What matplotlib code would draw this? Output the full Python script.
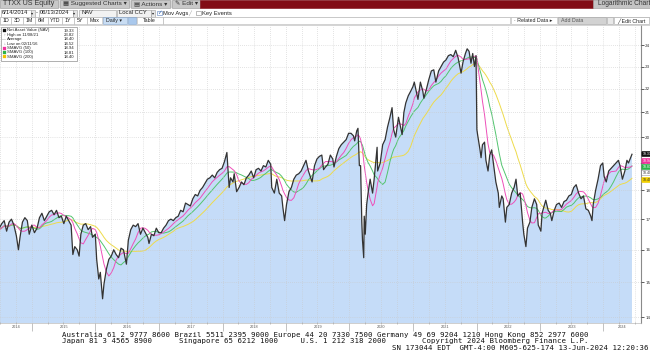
import matplotlib
matplotlib.use("Agg")
import matplotlib.pyplot as plt
import matplotlib.dates as mdates
from matplotlib.patches import Rectangle
from matplotlib.ticker import FixedLocator, FixedFormatter, NullFormatter, NullLocator
import numpy as np
import pandas as pd

W, H = 650, 358

# ---------------- data ----------------
dates_2014 = ["2014-06-13", "2014-06-27", "2014-07-11", "2014-07-25", "2014-08-08", "2014-08-22",
              "2014-09-05", "2014-09-19", "2014-10-03", "2014-10-15", "2014-10-24", "2014-11-07",
              "2014-11-21", "2014-12-05", "2014-12-16", "2014-12-31"]
nav_2014 = [16.55, 16.70, 16.85, 16.95, 16.60, 16.90, 17.00, 16.80, 16.45, 16.00, 16.40, 16.90,
            17.05, 16.95, 16.50, 16.80]

dates_2015 = ["01-15", "01-30", "02-13", "02-27", "03-13", "03-27", "04-10", "04-24", "05-08",
              "05-22", "06-05", "06-19", "07-03", "07-17", "07-31", "08-14", "08-24", "09-04",
              "09-18", "09-29", "10-09", "10-23", "11-06", "11-20", "12-04", "12-15", "12-31"]
nav_2015 = [16.55, 16.70, 17.05, 17.20, 16.95, 17.10, 17.25, 17.30, 17.15, 17.30, 17.05, 17.10,
            16.85, 17.10, 16.95, 16.80, 15.85, 16.10, 16.00, 15.80, 16.50, 16.80, 16.85, 16.65,
            16.75, 16.40, 16.50]

dates_2016 = ["01-08", "01-20", "01-29", "02-11", "02-19", "03-04", "03-18", "04-01", "04-15",
              "04-29", "05-13", "05-27", "06-10", "06-27", "07-08", "07-22", "08-05", "08-19",
              "09-02", "09-16", "09-30", "10-14", "10-28", "11-04", "11-18", "12-02", "12-16",
              "12-30"]
nav_2016 = [15.70, 15.10, 15.30, 14.52, 14.95, 15.40, 15.70, 15.80, 16.00, 15.85, 15.75, 16.05,
            16.00, 15.55, 16.30, 16.65, 16.80, 16.75, 16.85, 16.50, 16.70, 16.55, 16.40, 16.20,
            16.50, 16.45, 16.70, 16.55]

dates_2017 = ["01-13", "01-27", "02-10", "02-24", "03-10", "03-24", "04-07", "04-21", "05-05",
              "05-19", "06-02", "06-16", "06-30", "07-14", "07-28", "08-11", "08-25", "09-08",
              "09-22", "10-06", "10-20", "11-03", "11-17", "12-01", "12-15", "12-29"]
nav_2017 = [16.55, 16.70, 16.80, 16.95, 17.00, 16.95, 17.05, 17.10, 17.30, 17.25, 17.55, 17.50,
            17.45, 17.70, 17.85, 17.80, 18.00, 18.10, 18.25, 18.40, 18.45, 18.55, 18.45, 18.65,
            18.75, 18.80]

dates_2018 = ["01-12", "01-26", "02-08", "02-16", "03-02", "03-09", "03-23", "04-06", "04-20",
              "05-04", "05-18", "06-01", "06-15", "06-29", "07-13", "07-27", "08-10", "08-24",
              "09-07", "09-21", "10-05", "10-11", "10-26", "11-09", "11-23", "12-07", "12-14",
              "12-24"]
nav_2018 = [19.05, 19.40, 18.10, 18.45, 18.30, 18.60, 17.95, 18.10, 18.30, 18.20, 18.45, 18.55,
            18.70, 18.45, 18.75, 18.80, 18.70, 18.90, 18.85, 19.10, 18.95, 18.10, 17.90, 18.40,
            17.90, 17.80, 17.40, 16.95]

dates_2019 = ["01-04", "01-18", "02-01", "02-15", "03-01", "03-15", "03-29", "04-12", "04-26",
              "05-10", "05-31", "06-14", "06-28", "07-12", "07-26", "08-05", "08-16", "08-30",
              "09-13", "09-27", "10-04", "10-18", "11-01", "11-15", "11-29", "12-13", "12-27"]
nav_2019 = [17.50, 17.95, 18.10, 18.40, 18.55, 18.60, 18.70, 18.90, 19.10, 18.70, 18.30, 18.90,
            19.15, 19.25, 19.30, 18.75, 18.85, 18.95, 19.30, 19.15, 18.85, 19.25, 19.55, 19.70,
            19.80, 19.90, 20.15]

dates_2020 = ["01-10", "01-24", "01-31", "02-12", "02-19", "02-27", "03-05", "03-12", "03-16",
              "03-23", "03-26", "04-01", "04-09", "04-17", "04-29", "05-13", "05-22", "06-08",
              "06-11", "06-26", "07-10", "07-24", "08-07", "08-21", "09-02", "09-11", "09-23",
              "10-09", "10-30", "11-09", "11-20", "12-04", "12-18", "12-31"]
nav_2020 = [20.15, 20.05, 19.85, 20.25, 20.35, 18.90, 18.90, 16.90, 16.30, 15.75, 17.10, 16.50,
            17.50, 17.90, 18.40, 17.90, 18.40, 19.60, 18.70, 19.00, 19.70, 19.90, 20.40, 20.80,
            21.20, 20.30, 20.00, 20.80, 20.10, 21.00, 21.40, 21.70, 21.90, 22.10]

dates_2021 = ["01-08", "01-29", "02-12", "02-26", "03-04", "03-19", "04-01", "04-16", "04-30",
              "05-12", "05-28", "06-11", "06-25", "07-09", "07-23", "08-06", "08-20", "09-03",
              "09-17", "10-04", "10-15", "10-29", "11-08", "11-19", "11-30", "12-10", "12-20",
              "12-29"]
nav_2021 = [22.30, 21.55, 22.30, 21.90, 21.60, 22.00, 22.40, 22.80, 22.85, 22.30, 22.80, 23.00,
            23.20, 23.30, 23.50, 23.55, 23.45, 23.75, 23.40, 22.70, 23.20, 23.60, 23.82, 23.70,
            23.15, 23.60, 23.00, 23.50]

dates_2022 = ["01-03", "01-07", "01-21", "01-27", "02-04", "02-16", "02-24", "03-08", "03-18",
              "03-29", "04-08", "04-22", "05-06", "05-12", "05-26", "06-03", "06-16", "06-24",
              "07-08", "07-22", "08-05", "08-16", "08-26", "09-09", "09-23", "09-30", "10-12",
              "10-21", "11-04", "11-15", "11-30", "12-13", "12-22", "12-30"]
nav_2022 = [20.30, 20.10, 19.50, 19.20, 19.70, 19.80, 19.10, 18.70, 19.30, 19.50, 19.00, 18.30,
            17.90, 17.40, 17.80, 17.70, 16.90, 17.40, 17.50, 17.90, 18.10, 18.40, 17.80, 17.90,
            16.90, 16.50, 16.10, 16.70, 16.90, 17.40, 17.70, 17.50, 16.80, 16.70]

dates_2023 = ["01-06", "01-13", "01-27", "02-03", "02-17", "03-01", "03-10", "03-24", "04-06",
              "04-21", "05-05", "05-19", "06-02", "06-16", "06-30", "07-14", "07-28", "08-11",
              "08-25", "09-08", "09-22", "10-06", "10-20", "10-27", "11-03", "11-17", "12-01",
              "12-15", "12-28"]
nav_2023 = [16.60, 17.20, 17.50, 17.65, 17.30, 17.20, 16.95, 17.30, 17.50, 17.55, 17.40, 17.60,
            17.65, 17.80, 17.85, 18.10, 18.20, 17.90, 17.70, 17.80, 17.35, 17.30, 17.10, 16.95,
            17.50, 18.00, 18.40, 18.90, 19.00]

dates_2024 = ["01-05", "01-17", "01-31", "02-14", "02-28", "03-13", "03-27", "04-05", "04-19",
              "05-03", "05-15", "05-24", "06-05", "06-13"]
nav_2024 = [18.50, 18.30, 18.70, 18.80, 18.90, 19.00, 19.10, 18.90, 18.40, 18.70, 19.10, 19.00,
            19.20, 19.33]

ma_windows = [200, 100, 50]
ma_colors = ["#EEDB4A", "#52C46E", "#EE4FB9"]

legend_labels = ["Net Asset Value (NAV)", "High on 11/08/21", "Average", "Low on 02/11/16",
                 "SMAVG (50)", "SMAVG (100)", "SMAVG (200)"]
legend_values = ["19.33", "23.82", "18.40", "14.52", "18.94", "18.81", "18.40"]
legend_swatch = ["#111111", None, None, None, "#F0339E", "#2DB34A", "#F2C200"]

y_ticks = [14, 15, 16, 17, 18, 19, 20, 21, 22, 23, 24]
year_labels = [2014, 2015, 2016, 2017, 2018, 2019, 2020, 2021, 2022, 2023, 2024]

tag_values = ["19.33", "18.94", "18.81", "18.40", "18.40"]
tag_colors = ["#111111", "#F0339E", "#2DB34A", "#FFFFFF", "#F2D000"]
tag_text_colors = ["white", "white", "white", "#333333", "#333333"]

# ---------------- assemble series ----------------
all_dates = list(dates_2014)
all_nav = list(nav_2014)
for yr, ds, vs in [(2015, dates_2015, nav_2015), (2016, dates_2016, nav_2016),
                   (2017, dates_2017, nav_2017), (2018, dates_2018, nav_2018),
                   (2019, dates_2019, nav_2019), (2020, dates_2020, nav_2020),
                   (2021, dates_2021, nav_2021), (2022, dates_2022, nav_2022),
                   (2023, dates_2023, nav_2023), (2024, dates_2024, nav_2024)]:
    assert len(ds) == len(vs), yr
    all_dates += [f"{yr}-{d}" for d in ds]
    all_nav += vs

d = pd.to_datetime(all_dates)
v = np.array(all_nav, dtype=float)

# simple moving averages over trading days
bd = pd.bdate_range(d[0], d[-1])
daily = pd.Series(np.interp(bd.asi8, d.asi8, v), index=bd)
ma_lines = {}
for n in ma_windows:
    m = daily.rolling(n, min_periods=1).mean()
    ma_lines[n] = m.reindex(d, method="nearest").values

# ---------------- figure ----------------
UI = ["Liberation Sans", "DejaVu Sans"]
fig = plt.figure(figsize=(W / 100, H / 100), dpi=100)
fig.patch.set_facecolor("white")


def fx(x):
    return x / W


def fy(y):
    return 1 - y / H


def box(x, y, w, h, fc, ec=None, lw=0.4, z=1):
    fig.add_artist(Rectangle((fx(x), fy(y + h)), w / W, h / H, transform=fig.transFigure,
                             facecolor=fc, edgecolor=ec if ec else fc, linewidth=lw, zorder=z))


def txt(x, y, s, size=4.2, color="#222222", ha="left", family=None, z=5, **kw):
    fig.text(fx(x), fy(y), s, fontsize=size, color=color, ha=ha, va="center",
             family=family if family else UI, zorder=z, **kw)


# chart axes
ax_left, ax_right, ax_top, ax_bot = 0, 641, 25, 323
ax = fig.add_axes([fx(ax_left), fy(ax_bot), (ax_right - ax_left) / W, (ax_bot - ax_top) / H])
ax.set_facecolor("white")

x0 = pd.Timestamp("2015-01-01")
ppy = 63.5  # pixels per year


def px_to_date(x):
    return x0 + pd.Timedelta(days=(x - 32) / ppy * 365.25)


ax.set_xlim(px_to_date(ax_left), px_to_date(ax_right))
ax.set_yscale("log")
ax.set_ylim(13.84, 24.97)

ax.fill_between(d, v, 10, color="#C5DCF8", linewidth=0, zorder=1)
for n, c in zip(ma_windows, ma_colors):
    ax.plot(d, ma_lines[n], color=c, lw=0.7, zorder=2)
ax.plot(d, v, color="#333333", lw=0.9, zorder=3)

# grid
ax.xaxis.set_major_locator(mdates.YearLocator())
ax.xaxis.set_minor_locator(mdates.MonthLocator(bymonth=[4, 7, 10]))
ax.xaxis.set_major_formatter(NullFormatter())
ax.yaxis.set_major_locator(FixedLocator(y_ticks))
ax.yaxis.set_minor_locator(NullLocator())
ax.yaxis.set_major_formatter(FixedFormatter([str(t) for t in y_ticks]))
ax.grid(which="both", axis="x", color="#C9C9C9", ls=(0, (1, 2)), lw=0.5)
ax.grid(which="major", axis="y", color="#C9C9C9", ls=(0, (1, 2)), lw=0.5)
ax.set_axisbelow(False)
for gl in ax.get_xgridlines() + ax.get_ygridlines() + ax.xaxis.get_minorticklines():
    gl.set_zorder(1.5)

ax.yaxis.tick_right()
ax.tick_params(axis="y", which="major", length=2, width=0.6, color="#444444",
               labelsize=3.0, labelcolor="#333333", pad=1.0)
ax.tick_params(axis="x", which="major", length=6, width=0.5, color="#AAAAAA", direction="out")
ax.tick_params(axis="x", which="minor", length=1.5, width=0.5, color="#AAAAAA", direction="inout")
for s in ["top", "left"]:
    ax.spines[s].set_visible(False)
ax.spines["right"].set_color("#8A8A8A")
ax.spines["right"].set_linewidth(0.8)
ax.spines["bottom"].set_color("#BBBBBB")
ax.spines["bottom"].set_linewidth(0.5)

# year labels centred in each visible year span
xl = ax.get_xlim()
for yr in year_labels:
    a = max(mdates.date2num(pd.Timestamp(f"{yr}-01-01")), xl[0])
    b = min(mdates.date2num(pd.Timestamp(f"{yr + 1}-01-01")), xl[1])
    ax.text((a + b) / 2, -0.014, str(yr), transform=ax.get_xaxis_transform(), fontsize=2.8,
            color="#555555", ha="center", va="center", family=UI)

# right-side value tags
tag_y = [154, 161, 167, 173, 180]
for val, c, tc, yy in zip(tag_values, tag_colors, tag_text_colors, tag_y):
    fig.text(fx(642.5), fy(yy), val, fontsize=2.5, color=tc, ha="left", va="center", family=UI,
             bbox=dict(boxstyle="round,pad=0.2", fc=c, ec="#777777" if c == "#FFFFFF" else c,
                       lw=0.3), zorder=6)

# legend box
box(1, 27, 76, 34, "white", "#8F8F8F", lw=0.5, z=4)
for i, (lab, val, sw) in enumerate(zip(legend_labels, legend_values, legend_swatch)):
    yy = 30.5 + i * 4.4
    if sw is not None:
        box(2.5, yy - 1.5, 3, 3, sw, sw, lw=0.2, z=5)
    else:
        sym = ["", "\u2191", "\u2014", "\u2193"][i]
        txt(4, yy, sym, size=2.8, color="#666666", ha="center")
    txt(7, yy, lab, size=3.1, color="#222222")
    txt(74, yy, val, size=3.1, color="#222222", ha="right")

# ---------------- Bloomberg UI chrome ----------------
# row 1: tabs + red bar
box(0, 0, 650, 8, "#D6D6D6", z=1)
box(0, 0, 58, 8, "#C8C8C8", "#9C9C9C", z=2)
txt(3, 3.8, "TTXX US Equity", size=5.0, color="#333333")
box(60, 0, 69, 8, "#C8C8C8", "#9C9C9C", z=2)
txt(63, 3.8, "\u25A6 Suggested Charts \u25BE", size=4.6, color="#333333")
box(131, 0, 39, 8, "#C8C8C8", "#9C9C9C", z=2)
txt(134, 3.8, "\u25A4 Actions \u25BE", size=4.6, color="#333333")
box(172, 0, 28, 8, "#C8C8C8", "#9C9C9C", z=2)
txt(175, 3.8, "\u270E Edit \u25BE", size=4.6, color="#333333")
box(200, 0, 393, 8, "#820C15", z=2)
box(593, 0, 57, 8, "#C4C4C4", "#9C9C9C", z=2)
txt(598, 3.8, "Logarithmic Chart", size=4.8, color="#333333")

# row 2: date fields etc.
box(0, 8, 650, 9, "white", z=1)
box(0.5, 9.5, 30, 7, "white", "#9A9A9A", z=2)
txt(2, 13, "6/14/2014", size=4.2)
box(30.5, 9.5, 4, 7, "#E6E6E6", "#9A9A9A", z=2)
txt(32.5, 13, "\u25BE", size=3, ha="center")
txt(36, 13, "-", size=4.2)
box(38.5, 9.5, 34, 7, "white", "#9A9A9A", z=2)
txt(40, 13, "06/13/2024", size=4.2)
box(72.5, 9.5, 4, 7, "#E6E6E6", "#9A9A9A", z=2)
txt(74.5, 13, "\u25BE", size=3, ha="center")
box(79, 9.5, 37, 7, "#F2F2F2", "#9A9A9A", z=2)
txt(82, 13, "NAV", size=4.2)
box(117, 9.5, 34, 7, "#F2F2F2", "#9A9A9A", z=2)
txt(119, 13, "Local CCY", size=4.2)
box(151, 9.5, 4, 7, "#E6E6E6", "#9A9A9A", z=2)
txt(153, 13, "\u25BE", size=3, ha="center")
box(157, 10.5, 4.5, 4.5, "white", "#5A7FB8", z=2)
txt(159.2, 12.8, "\u2713", size=4, color="#2B5BA8", ha="center")
txt(163, 13, "Mov Avgs", size=4.2)
txt(190, 13, "\u2571", size=3.5, color="#999999", ha="center")
box(196, 10.5, 4.5, 4.5, "white", "#888888", z=2)
txt(202, 13, "Key Events", size=4.2)

# row 3: period buttons
box(0, 17, 650, 7.5, "white", "#B5B5B5", lw=0.4, z=1)
btns = [("1D", 0, 11), ("3D", 11, 12), ("1M", 23, 12), ("6M", 35, 13), ("YTD", 48, 14),
        ("1Y", 62, 12), ("5Y", 74, 13), ("Max", 87, 15)]
for lab, bx, bw in btns:
    box(bx + 0.3, 17.5, bw - 0.6, 6.5, "white", "#B0B0B0", z=2)
    txt(bx + bw / 2, 20.8, lab, size=3.8, ha="center")
box(102.5, 17.5, 24, 6.5, "#C9DDF3", "#7FA0C8", z=2)
txt(114.5, 20.8, "Daily \u25BE", size=3.8, ha="center")
box(127.5, 17.5, 8, 6.5, "#A9C8EC", "#7FA0C8", z=2)
box(136.5, 17.5, 26, 6.5, "white", "#B0B0B0", z=2)
txt(149.5, 20.8, "Table", size=3.8, ha="center")
box(163, 17.5, 347, 6.5, "white", "#B0B0B0", z=2)
box(511, 17.5, 46, 6.5, "white", "#B0B0B0", z=2)
txt(514, 20.8, "\u00B7 Related Data \u25B8", size=3.8)
box(558, 17.5, 48, 6.5, "#D2D2D2", "#A0A0A0", z=2)
txt(561, 20.8, "Add Data", size=3.8, color="#555555")
box(607, 17.5, 6, 6.5, "#E8E8E8", "#A0A0A0", z=2)
box(614, 17.5, 35, 6.5, "white", "#A0A0A0", z=2)
txt(617, 20.8, "\u2571 Edit Chart", size=3.8)

# ---------------- footer ----------------
MONO = ["DejaVu Sans Mono"]
line1 = ("Australia 61 2 9777 8600 Brazil 5511 2395 9000 Europe 44 20 7330 7500 "
         "Germany 49 69 9204 1210 Hong Kong 852 2977 6000")
line2 = ("Japan 81 3 4565 8900      Singapore 65 6212 1000     U.S. 1 212 318 2000"
         "        Copyright 2024 Bloomberg Finance L.P.")
line3 = "SN 173044 EDT  GMT-4:00 M605-625-174 13-Jun-2024 12:20:36"
txt(62, 335, line1, size=5.3, color="#111111", family=MONO)
txt(62, 341.5, line2, size=5.3, color="#111111", family=MONO)
txt(648, 348, line3, size=5.3, color="#111111", family=MONO, ha="right")

fig.savefig("out.png", dpi=100, facecolor="white")
